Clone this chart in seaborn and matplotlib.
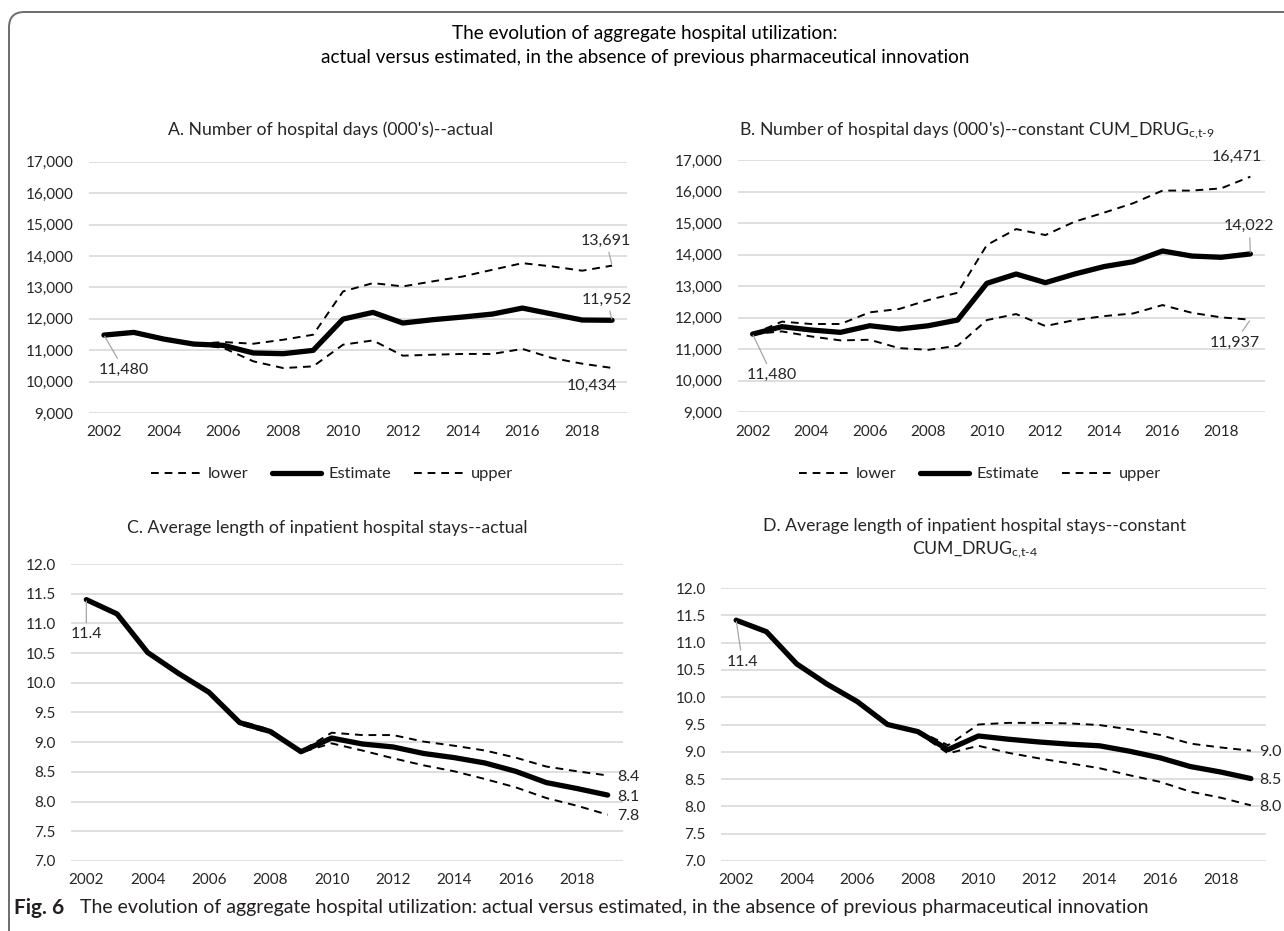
import matplotlib
matplotlib.use("Agg")
import matplotlib.pyplot as plt
from matplotlib.patches import FancyBboxPatch
from matplotlib.ticker import FuncFormatter
import seaborn as sns
import pandas as pd

# data
years = list(range(2002, 2020))

a_lower = [11480, 11560, 11350, 11195, 11070, 10645, 10430, 10485, 11175, 11310, 10825, 10855, 10880, 10880, 11040, 10750, 10570, 10434]
a_est = [11480, 11566, 11354, 11195, 11153, 10910, 10888, 10994, 11990, 12203, 11864, 11970, 12055, 12150, 12340, 12150, 11960, 11952]
a_upper = [11480, 11560, 11350, 11195, 11258, 11205, 11333, 11492, 12870, 13135, 13030, 13190, 13345, 13560, 13770, 13665, 13530, 13691]

b_lower = [11480, 11565, 11405, 11280, 11300, 11035, 10980, 11110, 11925, 12115, 11735, 11925, 12050, 12135, 12400, 12155, 12010, 11937]
b_est = [11480, 11715, 11610, 11535, 11745, 11640, 11745, 11925, 13090, 13385, 13110, 13385, 13620, 13775, 14115, 13955, 13915, 14022]
b_upper = [11480, 11875, 11800, 11800, 12170, 12275, 12560, 12790, 14305, 14810, 14620, 15045, 15330, 15630, 16030, 16030, 16100, 16471]

c_lower = [11.40, 11.16, 10.51, 10.16, 9.83, 9.30, 9.15, 8.83, 8.98, 8.86, 8.73, 8.61, 8.51, 8.38, 8.24, 8.06, 7.93, 7.78]
c_est = [11.40, 11.16, 10.51, 10.16, 9.84, 9.33, 9.18, 8.84, 9.07, 8.97, 8.92, 8.81, 8.74, 8.65, 8.51, 8.32, 8.22, 8.11]
c_upper = [11.40, 11.16, 10.51, 10.16, 9.85, 9.36, 9.21, 8.85, 9.16, 9.12, 9.12, 9.01, 8.94, 8.86, 8.74, 8.59, 8.51, 8.44]

d_lower = [11.41, 11.20, 10.61, 10.24, 9.92, 9.50, 9.35, 8.97, 9.11, 8.98, 8.88, 8.79, 8.70, 8.57, 8.45, 8.27, 8.16, 8.02]
d_est = [11.41, 11.20, 10.61, 10.24, 9.92, 9.50, 9.37, 9.04, 9.29, 9.23, 9.18, 9.14, 9.11, 9.01, 8.89, 8.73, 8.63, 8.51]
d_upper = [11.41, 11.20, 10.61, 10.24, 9.92, 9.50, 9.39, 9.12, 9.50, 9.53, 9.53, 9.52, 9.49, 9.41, 9.31, 9.15, 9.08, 9.02]

fig_title = "The evolution of aggregate hospital utilization:\nactual versus estimated, in the absence of previous pharmaceutical innovation"
titles = ["A. Number of hospital days (000's)--actual",
          r"B. Number of hospital days (000's)--constant CUM_DRUG$_{\text{c,t-9}}$",
          "C. Average length of inpatient hospital stays--actual",
          "D. Average length of inpatient hospital stays--constant\n" + r"CUM_DRUG$_{\text{c,t-4}}$"]
caption_bold = "Fig. 6"
caption = "The evolution of aggregate hospital utilization: actual versus estimated, in the absence of previous pharmaceutical innovation"

sns.set_style("white")
plt.rcParams['font.family'] = ['Lato', 'DejaVu Sans']
plt.rcParams['mathtext.fontset'] = 'custom'
plt.rcParams['mathtext.rm'] = 'Lato'
plt.rcParams['mathtext.it'] = 'Lato'

W, H = 1284, 931
fig = plt.figure(figsize=(W / 100, H / 100), dpi=100)

def box(l, r, t, b):
    return [l / W, 1 - b / H, (r - l) / W, (b - t) / H]

axA = fig.add_axes(box(89, 627, 161.7, 413))
axB = fig.add_axes(box(738, 1265, 160, 412.3))
axC = fig.add_axes(box(71, 623, 564, 861))
axD = fig.add_axes(box(721, 1266, 588, 861))

dash = (0, (4, 3))
txt = '#262626'
fs_tick = 11
fs_title = 12.7


def draw(ax, lo, est, up):
    df = pd.DataFrame({'year': years, 'lower': lo, 'Estimate': est, 'upper': up})
    sns.lineplot(data=df, x='year', y='lower', ax=ax, color='black', lw=1.4,
                 linestyle=dash, label='lower', zorder=3)
    sns.lineplot(data=df, x='year', y='Estimate', ax=ax, color='black', lw=3.8,
                 label='Estimate', zorder=4)
    sns.lineplot(data=df, x='year', y='upper', ax=ax, color='black', lw=1.4,
                 linestyle=dash, label='upper', zorder=3)
    ax.set_xlim(2001.5, 2019.5)
    ax.set_xticks(range(2002, 2019, 2))
    ax.set_xlabel('')
    ax.set_ylabel('')
    for s in ax.spines.values():
        s.set_visible(False)
    ax.grid(axis='y', color='#d9d9d9', lw=1.2)
    ax.grid(axis='x', visible=False)
    ax.tick_params(axis='both', length=0, labelsize=fs_tick, colors=txt)
    ax.tick_params(axis='y', pad=11)
    ax.tick_params(axis='x', pad=9)


draw(axA, a_lower, a_est, a_upper)
draw(axB, b_lower, b_est, b_upper)
draw(axC, c_lower, c_est, c_upper)
draw(axD, d_lower, d_est, d_upper)

for ax in (axA, axB):
    ax.set_ylim(9000, 17000)
    ax.set_yticks(range(9000, 17001, 1000))
    ax.yaxis.set_major_formatter(FuncFormatter(lambda v, p: f"{v:,.0f}"))
for ax in (axC, axD):
    ax.set_ylim(7.0, 12.0)
    ax.set_yticks([7.0 + 0.5 * i for i in range(11)])
    ax.yaxis.set_major_formatter(FuncFormatter(lambda v, p: f"{v:.1f}"))

# legends only under the top panels
for ax, cx in ((axA, 332), (axB, 980)):
    ax.legend(loc='center', bbox_to_anchor=(cx / W, 1 - 474 / H), bbox_transform=fig.transFigure,
              ncol=3, frameon=False, fontsize=11.8, handlelength=3.0, handletextpad=0.45,
              columnspacing=1.4, labelcolor=txt)
for ax in (axC, axD):
    ax.get_legend().remove()

lead = dict(arrowstyle='-', color='#a6a6a6', lw=0.9, shrinkA=1, shrinkB=1)


def lab(ax, x, y, s, dx, dy, arrow=True, ha='center'):
    ax.annotate(s, (x, y), xytext=(dx, dy), textcoords='offset points', ha=ha, va='center',
                fontsize=11.5, color=txt, arrowprops=lead if arrow else None, zorder=6)


lab(axA, 2002, a_est[0], "11,480", 14.5, -25)
lab(axA, 2019, a_upper[-1], "13,691", -4.3, 18)
lab(axA, 2019, a_est[-1], "11,952", -3.6, 15)
lab(axA, 2019, a_lower[-1], "10,434", -14.4, -13, arrow=False)

lab(axB, 2002, b_est[0], "11,480", 14, -29.5)
lab(axB, 2019, b_upper[-1], "16,471", -10, 14.4, arrow=False)
lab(axB, 2019, b_est[-1], "14,022", -0.7, 20)
lab(axB, 2019, b_lower[-1], "11,937", -11.5, -16.6)

lab(axC, 2002, c_est[0], "11.4", 0, -25)
lab(axC, 2019, c_upper[-1], "8.4", 7, -1, arrow=False, ha='left')
lab(axC, 2019, c_est[-1], "8.1", 7, -1.5, arrow=False, ha='left')
lab(axC, 2019, c_lower[-1], "7.8", 7, -1, arrow=False, ha='left')

lab(axD, 2002, d_est[0], "11.4", 4.5, -30)
lab(axD, 2019, d_upper[-1], "9.0", 6, -1, arrow=False, ha='left')
lab(axD, 2019, d_est[-1], "8.5", 6, -1, arrow=False, ha='left')
lab(axD, 2019, d_lower[-1], "8.0", 6, -1, arrow=False, ha='left')

# titles
fig.text(645 / W, 1 - 45.5 / H, fig_title, ha='center', va='center', fontsize=13.7,
         color='black', linespacing=1.45)
fig.text(331 / W, 1 - 130 / H, titles[0], ha='center', va='center', fontsize=fs_title, color=txt)
fig.text(977 / W, 1 - 130 / H, titles[1], ha='center', va='center', fontsize=fs_title, color=txt)
fig.text(327 / W, 1 - 528 / H, titles[2], ha='center', va='center', fontsize=fs_title, color=txt)
fig.text(975 / W, 1 - 539 / H, titles[3], ha='center', va='center', fontsize=fs_title, color=txt,
         linespacing=1.35)

# caption
fig.text(14 / W, 1 - 908 / H, caption_bold, ha='left', va='center', fontsize=15,
         fontweight='bold', color='#231f20')
fig.text(80 / W, 1 - 908 / H, caption, ha='left', va='center', fontsize=14, color='#231f20')

# rounded frame, only top-left corner visible
frame = FancyBboxPatch((9 / W, -0.2), 1.2, 1.2 - 12 / H,
                       boxstyle='round,pad=0,rounding_size=0.012', mutation_aspect=W / H,
                       transform=fig.transFigure, fill=False, edgecolor='#6d6d6d', lw=1.4)
fig.patches.append(frame)

fig.savefig('out.png', dpi=100)
